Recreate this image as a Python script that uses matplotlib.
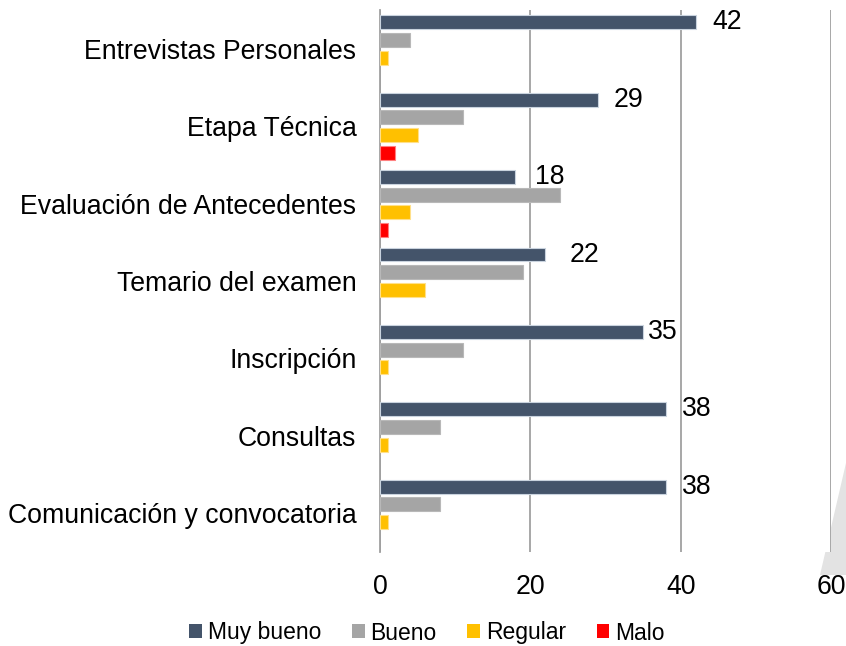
import matplotlib
matplotlib.use("Agg")
import matplotlib.pyplot as plt
import numpy as np
from matplotlib.patches import Polygon, Patch

plt.rcParams['font.family'] = ['Liberation Sans', 'DejaVu Sans']

categories = ["Entrevistas Personales", "Etapa Técnica", "Evaluación de Antecedentes",
              "Temario del examen", "Inscripción", "Consultas", "Comunicación y convocatoria"]
series_names = ["Muy bueno", "Bueno", "Regular", "Malo"]
muy_bueno = [42, 29, 18, 22, 35, 38, 38]
bueno = [4, 11, 24, 19, 11, 8, 8]
regular = [1, 5, 4, 6, 1, 1, 1]
malo = [0, 2, 1, 0, 0, 0, 0]
xticks = [0, 20, 40, 60]

colors = ["#44546A", "#A5A5A5", "#FFC000", "#FF0000"]
edges = ["#C9D3DE", "#B8B8B8", "#FFE08A", "#FF8080"]
label_dx = [17, 16, 20, 24, 5, 16, 16]  # pixel gap of value labels

W, H = 846, 646
fig = plt.figure(figsize=(W / 100, H / 100), dpi=100)
fig.patch.set_facecolor("white")

# decorative light gray shape at bottom right
tri = Polygon([(846 / W, 1 - 463 / H), (820 / W, 1 - 575 / H), (846 / W, 1 - 575 / H)],
              closed=True, transform=fig.transFigure, facecolor="#E3E3E3",
              edgecolor="none", zorder=-5)
fig.patches.append(tri)

ax = fig.add_axes([380 / W, 1 - 552 / H, (831 - 380) / W, (552 - 10) / H])
ax.set_facecolor("white")

data = [muy_bueno, bueno, regular, malo]
y = np.arange(len(categories))
pitch = 0.228
height = 0.18
for j, vals in enumerate(data):
    lws = [0.8 if v > 0 else 0 for v in vals]
    ax.barh(y + (j - 1.5) * pitch, vals, height=height, color=colors[j],
            edgecolor=edges[j], linewidth=lws, zorder=3, label=series_names[j])

ax.set_xlim(0, 60)
ax.set_ylim(len(categories) - 0.5, -0.5)
ax.set_xticks(xticks)
ax.set_xticklabels([str(t) for t in xticks])
ax.set_yticks(y)
ax.set_yticklabels(categories)
ax.tick_params(axis='both', length=0, labelsize=19.2)
ax.tick_params(axis='x', pad=16)
ax.tick_params(axis='y', pad=17)
ax.xaxis.grid(True, color="#A0A0A0", linewidth=1.3, zorder=0)
ax.set_axisbelow(True)
for s in ["top", "right", "bottom"]:
    ax.spines[s].set_visible(False)
ax.spines["left"].set_color("#A0A0A0")
ax.spines["left"].set_linewidth(1.3)

for i, v in enumerate(muy_bueno):
    ax.annotate(str(v), xy=(v, y[i] - 1.5 * pitch), xytext=(label_dx[i] * 0.72, 0),
                textcoords="offset points", ha="left", va="center", fontsize=19.2,
                color="black", zorder=4)

handles = [Patch(facecolor=colors[j], edgecolor="none") for j in range(4)]
fig.legend(handles, series_names, loc="center", bbox_to_anchor=(427 / W, 1 - 633 / H),
           ncol=4, frameon=False, fontsize=16.5, handlelength=0.55, handleheight=0.55,
           handletextpad=0.25, columnspacing=1.35)

fig.savefig("out.png", dpi=100)
